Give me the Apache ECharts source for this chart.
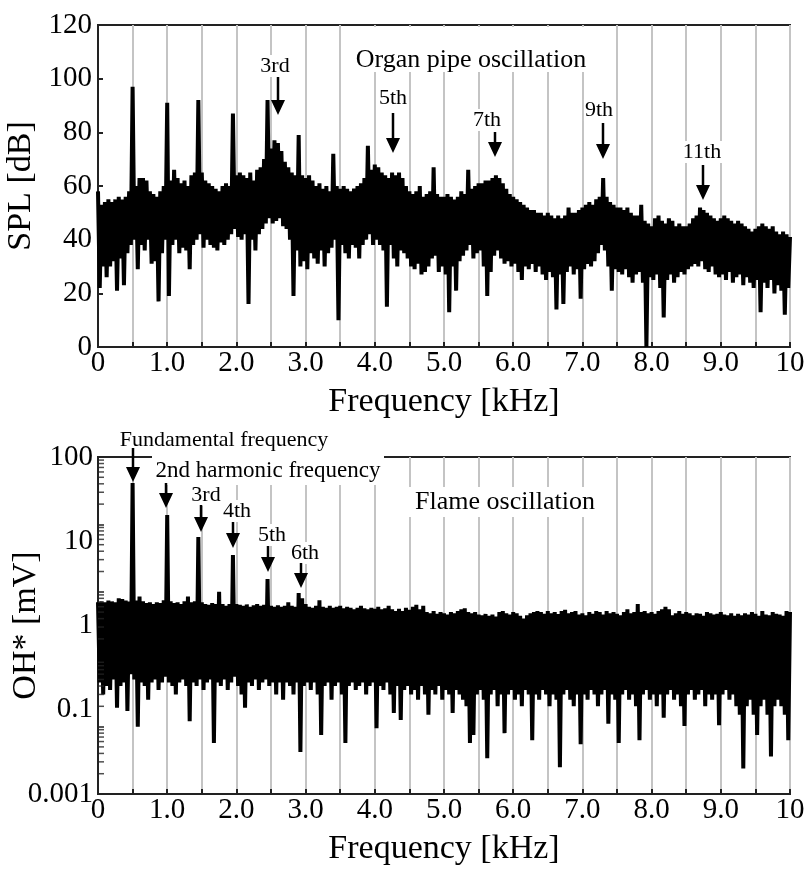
<!DOCTYPE html>
<html>
<head>
<meta charset="utf-8">
<script src="https://cdn.jsdelivr.net/npm/echarts@6/dist/echarts.min.js"></script>
<style>html,body{margin:0;padding:0;background:#fff}#c{width:808px;height:870px}</style>
</head>
<body>
<div id="c"></div>
<script>
// ---------- DATA ----------
// Spectra sampled every 0.05 kHz: "Hi" = upper envelope at f = 0, 0.05, ... 10;
// "Lo" = lower envelope at f = 0.025, 0.075, ... 9.975
const freqStep = 0.05;

// Organ pipe oscillation, SPL [dB]
const splHi = [
  58,53,54,55,54,55,56,55,56,58,
  97,60,63,63,62,58,57,56,58,60,
  91,62,66,63,61,62,60,64,65,92,
  65,62,61,60,59,58,60,61,60,87,
  64,65,64,63,65,62,66,67,70,92,
  74,77,76,73,69,67,65,64,79,64,
  63,64,62,60,61,59,60,58,72,60,
  59,60,59,58,59,60,61,63,75,66,
  68,67,65,64,63,65,64,65,63,60,
  58,57,58,60,56,57,58,67,57,56,
  56,57,56,55,56,58,57,66,59,60,
  61,61,62,62,63,64,63,61,59,57,
  56,55,54,53,52,51,51,50,50,49,
  50,49,48,49,48,49,52,50,50,51,
  52,53,54,53,55,56,63,56,54,53,
  52,52,51,52,50,49,49,53,47,46,
  45,48,49,47,46,48,47,45,46,45,
  45,46,48,49,52,51,50,49,48,47,
  48,49,48,47,46,47,46,45,44,43,
  44,45,46,45,44,45,43,42,43,42,
  41
];
const splLo = [
  22,30,26,30,32,21,33,23,35,38,
  40,29,38,36,40,31,32,17,35,40,
  19,38,40,35,37,36,29,38,40,42,
  37,40,38,37,36,39,38,40,42,44,
  41,40,42,16,40,36,42,44,46,48,
  46,47,48,45,44,40,19,36,30,32,
  29,35,33,31,36,30,35,37,40,10,
  38,35,33,38,37,33,38,40,42,38,
  40,38,36,15,38,33,30,36,35,33,
  30,29,31,27,28,30,33,34,28,30,
  27,13,30,21,32,34,36,38,33,35,
  36,30,19,28,34,36,33,31,32,30,
  31,28,25,30,29,31,28,30,27,25,
  28,26,14,27,16,28,30,27,29,18,
  29,31,30,32,35,38,36,30,21,29,
  28,27,29,26,24,27,28,24,0,26,
  25,27,22,11,25,27,24,26,28,27,
  29,30,31,30,32,29,28,30,27,26,
  27,25,28,24,26,27,23,26,24,22,
  25,13,24,22,25,20,23,21,12,22
];

// Flame oscillation, OH* [mV]
const ohHi = [
  0.70,0.72,0.70,0.74,0.72,0.70,0.80,0.78,0.74,0.72,
  41,0.74,0.85,0.72,0.68,0.70,0.66,0.70,0.68,0.75,
  13.8,0.72,0.68,0.70,0.66,0.72,0.85,0.70,0.72,6.5,
  0.70,0.66,0.64,0.68,0.66,1.0,0.66,0.62,0.66,3.5,
  0.66,0.64,0.62,0.65,0.60,0.63,0.66,0.62,0.64,1.55,
  0.62,0.60,0.63,0.60,0.62,0.70,0.62,0.60,0.96,0.80,
  0.66,0.60,0.58,0.62,0.75,0.60,0.58,0.62,0.58,0.60,
  0.62,0.57,0.60,0.58,0.55,0.58,0.62,0.57,0.55,0.58,
  0.56,0.60,0.55,0.57,0.62,0.55,0.52,0.56,0.52,0.58,
  0.54,0.60,0.64,0.55,0.62,0.50,0.48,0.52,0.47,0.50,
  0.48,0.46,0.50,0.48,0.52,0.55,0.57,0.50,0.48,0.50,
  0.46,0.45,0.47,0.44,0.46,0.43,0.50,0.52,0.48,0.46,
  0.50,0.48,0.44,0.40,0.45,0.48,0.50,0.52,0.50,0.47,
  0.52,0.48,0.50,0.47,0.52,0.54,0.48,0.50,0.52,0.46,
  0.48,0.45,0.50,0.47,0.52,0.50,0.46,0.52,0.48,0.50,
  0.47,0.45,0.50,0.55,0.48,0.50,0.66,0.50,0.52,0.48,
  0.50,0.47,0.52,0.55,0.60,0.55,0.45,0.48,0.52,0.47,
  0.50,0.48,0.45,0.48,0.47,0.44,0.50,0.48,0.46,0.47,
  0.50,0.46,0.45,0.48,0.44,0.47,0.45,0.48,0.46,0.50,
  0.47,0.44,0.52,0.46,0.45,0.50,0.47,0.46,0.44,0.52,
  0.50
];
const ohLo = [
  0.045,0.03,0.04,0.035,0.05,0.019,0.04,0.045,0.017,0.06,
  0.05,0.010,0.045,0.04,0.025,0.045,0.05,0.035,0.045,0.055,
  0.045,0.04,0.03,0.045,0.05,0.04,0.012,0.045,0.04,0.05,
  0.035,0.045,0.05,0.0057,0.045,0.04,0.05,0.035,0.045,0.055,
  0.04,0.03,0.019,0.045,0.04,0.05,0.035,0.045,0.05,0.04,
  0.045,0.03,0.045,0.025,0.045,0.04,0.03,0.045,0.0042,0.04,
  0.045,0.035,0.045,0.03,0.0075,0.04,0.045,0.025,0.04,0.045,
  0.03,0.0057,0.04,0.045,0.035,0.04,0.045,0.03,0.04,0.045,
  0.0095,0.04,0.035,0.045,0.03,0.016,0.04,0.0125,0.035,0.04,
  0.03,0.035,0.025,0.04,0.03,0.015,0.035,0.03,0.04,0.025,
  0.035,0.03,0.016,0.035,0.03,0.025,0.02,0.0057,0.0075,0.03,
  0.035,0.025,0.0034,0.03,0.035,0.02,0.03,0.008,0.03,0.035,
  0.025,0.03,0.02,0.035,0.03,0.0063,0.03,0.025,0.035,0.03,
  0.02,0.03,0.025,0.0025,0.03,0.035,0.025,0.02,0.03,0.0055,
  0.03,0.025,0.035,0.03,0.02,0.03,0.035,0.011,0.03,0.025,
  0.0057,0.03,0.035,0.025,0.03,0.02,0.0063,0.03,0.035,0.025,
  0.03,0.02,0.03,0.0135,0.03,0.035,0.025,0.03,0.02,0.0102,
  0.03,0.035,0.025,0.03,0.035,0.02,0.03,0.025,0.03,0.0105,
  0.03,0.035,0.025,0.03,0.02,0.015,0.0024,0.02,0.025,0.015,
  0.0075,0.02,0.025,0.015,0.0036,0.02,0.025,0.02,0.015,0.0063
];

// Tick labels
const xTickLabels = ['0','1.0','2.0','3.0','4.0','5.0','6.0','7.0','8.0','9.0','10'];
const ohTickLabels = ['0.001','0.1','1','10','100'];
const logDecades = [-3,-2,-1,0,1];
const logMinorMultipliers = [2,3,4,5,6,7,8,9];

// ---------- BUILD ----------
const FONT = '"Liberation Serif","Times New Roman",serif';

function zigzag(hi, lo) {
  const out = [];
  for (let i = 0; i < hi.length; i++) {
    out.push([+(i * freqStep).toFixed(4), hi[i]]);
    if (i < lo.length) out.push([+(i * freqStep + freqStep / 2).toFixed(4), lo[i]]);
  }
  return out;
}
const minorTickData = [];
logDecades.forEach(d => logMinorMultipliers.forEach(m => minorTickData.push([0, m * Math.pow(10, d)])));

function mkX(gi) {
  return {
    gridIndex: gi, type: 'value', min: 0, max: 10, interval: 0.5,
    axisLine: { lineStyle: { color: '#222', width: 2 } },
    axisTick: { inside: true, length: 5, lineStyle: { color: '#222', width: 2 } },
    axisLabel: {
      formatter: v => (Math.abs(v - Math.round(v)) < 1e-6 ? xTickLabels[Math.round(v)] : ''),
      fontFamily: FONT, fontSize: 29, color: '#000', margin: 2
    },
    splitLine: { show: true, lineStyle: { color: '#c4c4c4', width: 2 } },
    name: 'Frequency [kHz]', nameLocation: 'middle', nameGap: 38,
    nameTextStyle: { fontFamily: FONT, fontSize: 34, color: '#000' }
  };
}

// Annotation layout (pixels)
const arrows = [
  { x: 278, y1: 77, y2: 115 }, { x: 393, y1: 113, y2: 153 }, { x: 495, y1: 132, y2: 157 },
  { x: 603, y1: 123, y2: 159 }, { x: 703, y1: 165, y2: 200 },
  { x: 133, y1: 448, y2: 482 }, { x: 166, y1: 483, y2: 508 }, { x: 201, y1: 505, y2: 532 },
  { x: 233, y1: 522, y2: 548 }, { x: 268, y1: 546, y2: 572 }, { x: 301, y1: 563, y2: 588 }
];
const labels = [
  { t: '3rd', x: 275, y: 66, s: 22 }, { t: '5th', x: 393, y: 98, s: 22 }, { t: '7th', x: 487, y: 120, s: 22 },
  { t: '9th', x: 599, y: 110, s: 22 }, { t: '11th', x: 702, y: 152, s: 22 },
  { t: 'Fundamental frequency', x: 224, y: 440, s: 22 },
  { t: '3rd', x: 206, y: 495, s: 22 }, { t: '4th', x: 237, y: 511, s: 22 },
  { t: '5th', x: 272, y: 535, s: 22 }, { t: '6th', x: 305, y: 553, s: 22 }
];
const boxes = [
  { t: 'Organ pipe oscillation', x: 471, y: 60, s: 26, r: [345, 27, 252, 45] },
  { t: '2nd harmonic frequency', x: 268, y: 471, s: 23, r: [152, 445, 232, 40] },
  { t: 'Flame oscillation', x: 505, y: 502, s: 26, r: [408, 487, 194, 30] }
];

const graphics = [];
boxes.forEach(b => {
  graphics.push({ type: 'rect', z: 50, silent: true, shape: { x: b.r[0], y: b.r[1], width: b.r[2], height: b.r[3] }, style: { fill: '#fff' } });
  graphics.push({ type: 'text', z: 60, silent: true, x: b.x, y: b.y, style: { text: b.t, font: b.s + 'px ' + FONT, fill: '#000', textAlign: 'center', textVerticalAlign: 'middle' } });
});
labels.forEach(l => {
  graphics.push({ type: 'text', z: 60, silent: true, x: l.x, y: l.y, style: { text: l.t, font: l.s + 'px ' + FONT, fill: '#000', textAlign: 'center', textVerticalAlign: 'middle', backgroundColor: '#fff', padding: [0, 1] } });
});
arrows.forEach(a => {
  graphics.push({ type: 'line', z: 70, silent: true, shape: { x1: a.x, y1: a.y1, x2: a.x, y2: a.y2 - 10 }, style: { stroke: '#000', lineWidth: 2.5 } });
  graphics.push({ type: 'polygon', z: 70, silent: true, shape: { points: [[a.x - 7, a.y2 - 15], [a.x + 7, a.y2 - 15], [a.x, a.y2]] }, style: { fill: '#000' } });
});

const option = {
  animation: false,
  backgroundColor: '#fff',
  grid: [
    { left: 98, top: 25, width: 692, height: 322, show: true, borderColor: '#222', borderWidth: 2, containLabel: false, outerBoundsMode: 'none' },
    { left: 98, top: 457, width: 692, height: 337, show: true, borderColor: '#222', borderWidth: 2, containLabel: false, outerBoundsMode: 'none' }
  ],
  xAxis: [mkX(0), mkX(1)],
  yAxis: [
    {
      gridIndex: 0, type: 'value', min: 0, max: 120, interval: 20,
      axisLine: { show: true, lineStyle: { color: '#222', width: 2 } },
      axisTick: { inside: true, length: 5, lineStyle: { color: '#222', width: 2 } },
      axisLabel: { fontFamily: FONT, fontSize: 29, color: '#000', margin: 6 },
      splitLine: { show: false },
      name: 'SPL [dB]', nameLocation: 'middle', nameGap: 55,
      nameTextStyle: { fontFamily: FONT, fontSize: 34, color: '#000' }
    },
    {
      gridIndex: 1, type: 'log', logBase: 10, min: 0.001, max: 100,
      axisLine: { show: true, lineStyle: { color: '#222', width: 2 } },
      axisTick: { inside: true, length: 6, lineStyle: { color: '#222', width: 1.5 } },
      axisLabel: { show: false },
      splitLine: { show: false },
      name: 'OH* [mV]', nameLocation: 'middle', nameGap: 55,
      nameTextStyle: { fontFamily: FONT, fontSize: 34, color: '#000' }
    },
    {
      gridIndex: 1, type: 'value', min: 0, max: 4, interval: 1, position: 'left',
      axisLine: { show: false }, axisTick: { show: false }, splitLine: { show: false },
      axisLabel: { formatter: v => ohTickLabels[v], fontFamily: FONT, fontSize: 29, color: '#000', margin: 5 }
    }
  ],
  series: [
    {
      type: 'line', xAxisIndex: 0, yAxisIndex: 0, data: zigzag(splHi, splLo),
      showSymbol: false, symbol: 'none', lineStyle: { color: '#000', width: 4 }, z: 3
    },
    {
      type: 'line', xAxisIndex: 1, yAxisIndex: 1, data: zigzag(ohHi, ohLo),
      showSymbol: false, symbol: 'none', lineStyle: { color: '#000', width: 4 }, z: 3
    },
    {
      type: 'scatter', xAxisIndex: 1, yAxisIndex: 1, data: minorTickData, silent: true,
      symbol: 'rect', symbolSize: [6, 1.5], symbolOffset: [3, 0], itemStyle: { color: '#222' }, z: 4
    }
  ],
  graphic: graphics
};

const chart = echarts.init(document.getElementById('c'), null, { renderer: 'canvas' });
chart.setOption(option);
</script>
</body>
</html>
